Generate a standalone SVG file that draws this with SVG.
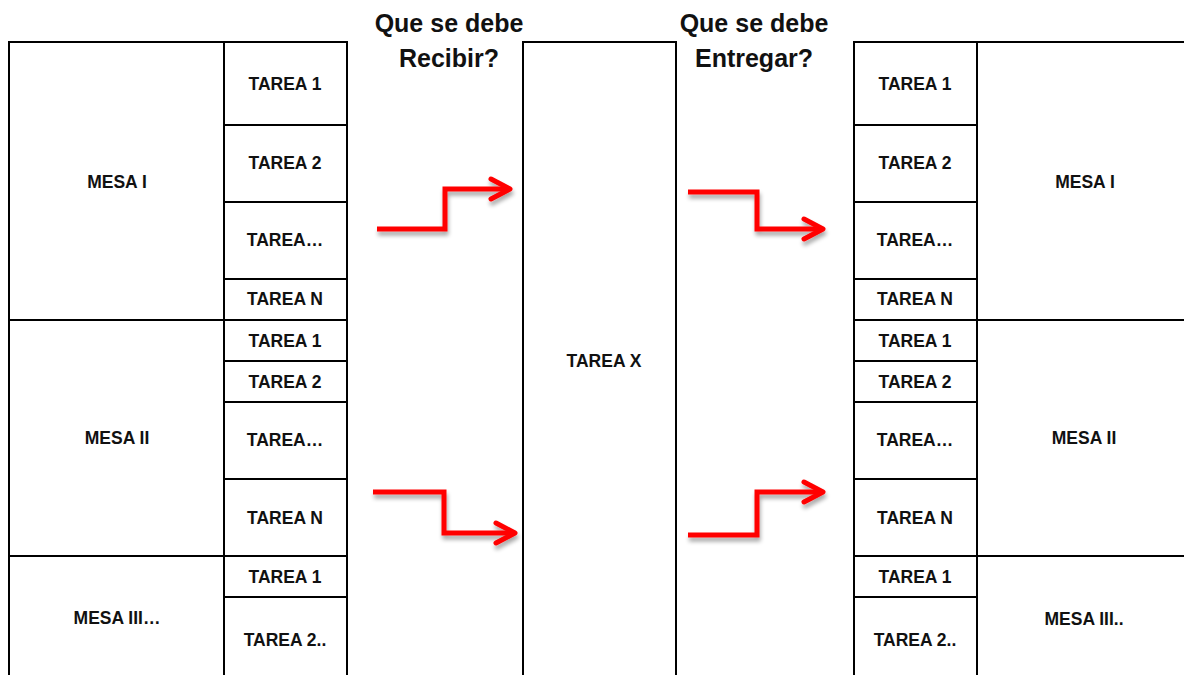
<svg xmlns="http://www.w3.org/2000/svg" width="1184" height="675" viewBox="0 0 1184 675">
<style>
.cell{fill:#fff;stroke:#000;stroke-width:2}
.t{font-family:"Liberation Sans",Arial,sans-serif;font-weight:700;font-size:17.5px;fill:#111;text-anchor:middle;dominant-baseline:central}
.h{font-family:"Liberation Sans",Arial,sans-serif;font-weight:700;font-size:25px;fill:#111;text-anchor:middle}
.arr{fill:none;stroke:#f00;stroke-width:5;stroke-linejoin:miter;stroke-linecap:butt}
.head{fill:none;stroke:#f00;stroke-width:5;stroke-linecap:round;stroke-linejoin:round}
</style>
<defs>
<filter id="sh" x="-20%" y="-20%" width="140%" height="160%">
<feGaussianBlur in="SourceAlpha" stdDeviation="2"/>
<feOffset dx="1" dy="4" result="b"/>
<feComponentTransfer><feFuncA type="linear" slope="0.35"/></feComponentTransfer>
<feMerge><feMergeNode/><feMergeNode in="SourceGraphic"/></feMerge>
</filter>
</defs>
<rect width="1184" height="675" fill="#fff"/>
<g id="headers">
<text class="h" x="449" y="32">Que se debe</text>
<text class="h" x="449" y="67">Recibir?</text>
<text class="h" x="754" y="32">Que se debe</text>
<text class="h" x="754" y="67">Entregar?</text>
</g>
<g id="left-mesas">
<g id="l-mesa1"><rect class="cell" x="9" y="42" width="215" height="278"/><text class="t" x="117" y="182">MESA I</text></g>
<g id="l-mesa2"><rect class="cell" x="9" y="320" width="215" height="236"/><text class="t" x="117" y="438">MESA II</text></g>
<g id="l-mesa3"><rect class="cell" x="9" y="556" width="215" height="130"/><text class="t" x="117" y="618">MESA III…</text></g>
</g>
<g id="left-tareas">
<g id="l-t1"><rect class="cell" x="224" y="42" width="123" height="83"/><text class="t" x="285" y="84">TAREA 1</text></g>
<g id="l-t2"><rect class="cell" x="224" y="125" width="123" height="77"/><text class="t" x="285" y="163">TAREA 2</text></g>
<g id="l-t3"><rect class="cell" x="224" y="202" width="123" height="77"/><text class="t" x="285" y="240">TAREA…</text></g>
<g id="l-t4"><rect class="cell" x="224" y="279" width="123" height="41"/><text class="t" x="285" y="299">TAREA N</text></g>
<g id="l-t5"><rect class="cell" x="224" y="320" width="123" height="41"/><text class="t" x="285" y="341">TAREA 1</text></g>
<g id="l-t6"><rect class="cell" x="224" y="361" width="123" height="41"/><text class="t" x="285" y="382">TAREA 2</text></g>
<g id="l-t7"><rect class="cell" x="224" y="402" width="123" height="77"/><text class="t" x="285" y="440">TAREA…</text></g>
<g id="l-t8"><rect class="cell" x="224" y="479" width="123" height="77"/><text class="t" x="285" y="518">TAREA N</text></g>
<g id="l-t9"><rect class="cell" x="224" y="556" width="123" height="41"/><text class="t" x="285" y="577">TAREA 1</text></g>
<g id="l-t10"><rect class="cell" x="224" y="597" width="123" height="90"/><text class="t" x="285" y="640">TAREA 2..</text></g>
</g>
<g id="center">
<rect class="cell" x="523" y="42" width="153" height="645"/><text class="t" x="604" y="361">TAREA X</text>
</g>
<g id="right-tareas">
<g id="r-t1"><rect class="cell" x="854" y="42" width="123" height="83"/><text class="t" x="915" y="84">TAREA 1</text></g>
<g id="r-t2"><rect class="cell" x="854" y="125" width="123" height="77"/><text class="t" x="915" y="163">TAREA 2</text></g>
<g id="r-t3"><rect class="cell" x="854" y="202" width="123" height="77"/><text class="t" x="915" y="240">TAREA…</text></g>
<g id="r-t4"><rect class="cell" x="854" y="279" width="123" height="41"/><text class="t" x="915" y="299">TAREA N</text></g>
<g id="r-t5"><rect class="cell" x="854" y="320" width="123" height="41"/><text class="t" x="915" y="341">TAREA 1</text></g>
<g id="r-t6"><rect class="cell" x="854" y="361" width="123" height="41"/><text class="t" x="915" y="382">TAREA 2</text></g>
<g id="r-t7"><rect class="cell" x="854" y="402" width="123" height="77"/><text class="t" x="915" y="440">TAREA…</text></g>
<g id="r-t8"><rect class="cell" x="854" y="479" width="123" height="77"/><text class="t" x="915" y="518">TAREA N</text></g>
<g id="r-t9"><rect class="cell" x="854" y="556" width="123" height="41"/><text class="t" x="915" y="577">TAREA 1</text></g>
<g id="r-t10"><rect class="cell" x="854" y="597" width="123" height="90"/><text class="t" x="915" y="640">TAREA 2..</text></g>
</g>
<g id="right-mesas">
<g id="r-mesa1"><rect class="cell" x="977" y="42" width="220" height="278"/><text class="t" x="1085" y="182">MESA I</text></g>
<g id="r-mesa2"><rect class="cell" x="977" y="320" width="220" height="236"/><text class="t" x="1084" y="438">MESA II</text></g>
<g id="r-mesa3"><rect class="cell" x="977" y="556" width="220" height="130"/><text class="t" x="1084" y="619">MESA III..</text></g>
</g>
<g id="connectors" filter="url(#sh)">
<path class="arr" d="M377 229 H445 V189 H509"/>
<path class="head" d="M491 179 L510 189 L491 199"/>
<path class="arr" d="M688 192 H757 V229 H822"/>
<path class="head" d="M804 219 L823 229 L804 239"/>
<path class="arr" d="M373 492 H444 V533 H514"/>
<path class="head" d="M496 523 L515 533 L496 543"/>
<path class="arr" d="M688 535 H757 V492 H822"/>
<path class="head" d="M804 482 L823 492 L804 502"/>
</g>
</svg>
